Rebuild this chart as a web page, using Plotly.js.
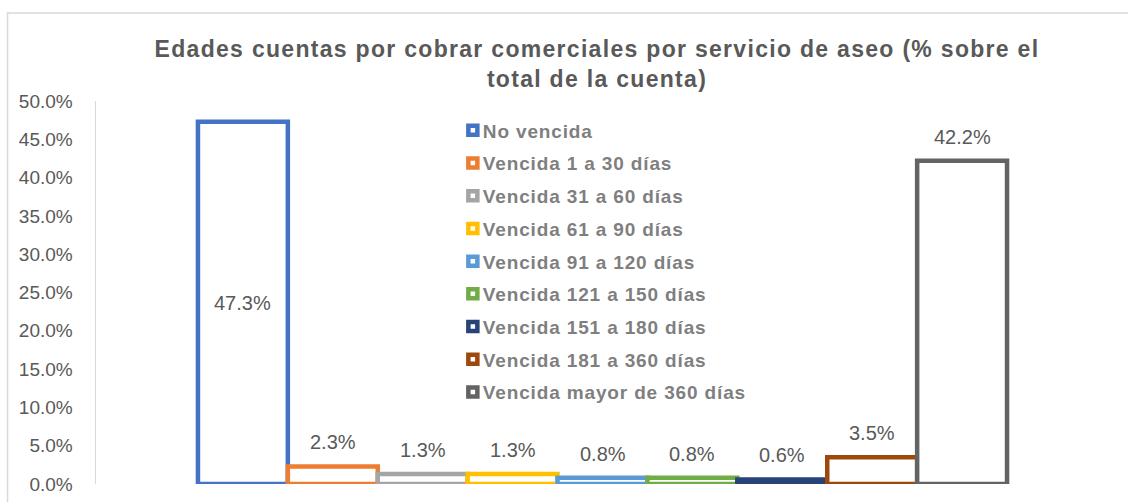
<!DOCTYPE html>
<html>
<head>
<meta charset="utf-8">
<script src="https://cdn.plot.ly/plotly-3.0.1.min.js"></script>
<style>
  html, body { margin: 0; padding: 0; background: #ffffff; }
  #chart { width: 1128px; height: 502px; }
  .gtitle { letter-spacing: 1.3px; }
  .legend .scrollbox { clip-path: none !important; }
  .legend .legendtext { letter-spacing: 0.85px; transform: translateX(-10px); }
  .legend .legendpoints path { transform: translate(20px, 0px) scale(0.75); stroke-width: 6px !important; }
</style>
</head>
<body>
<div id="chart"></div>
<script>
// ---- data ----
const categories = [
  'No vencida',
  'Vencida 1 a 30 días',
  'Vencida 31 a 60 días',
  'Vencida 61 a 90 días',
  'Vencida 91 a 120 días',
  'Vencida 121 a 150 días',
  'Vencida 151 a 180 días',
  'Vencida 181 a 360 días',
  'Vencida mayor de 360 días'
];
const values = [47.3, 2.3, 1.3, 1.3, 0.8, 0.8, 0.6, 3.5, 42.2];
const colors = ['#4472C4', '#ED7D31', '#A5A5A5', '#FFC000', '#5B9BD5', '#70AD47', '#264478', '#9E480E', '#636363'];
const titleText = 'Edades cuentas por cobrar comerciales por servicio de aseo (% sobre el<br>total de la cuenta)';

// ---- traces ----
const traces = categories.map((name, i) => ({
  type: 'bar',
  name: name,
  x: [i],
  y: [values[i]],
  width: 1,
  legendgroup: 'g' + i,
  marker: { color: '#ffffff', line: { color: colors[i], width: 4.5 } },
  hoverinfo: 'name+y'
}));

const annotations = values.map((v, i) => {
  const inside = i === 0;
  return {
    x: i, y: inside ? v / 2 : v,
    xref: 'x', yref: 'y',
    text: v.toFixed(1) + '%',
    showarrow: false,
    xanchor: 'center',
    yanchor: inside ? 'middle' : 'bottom',
    yshift: inside ? 0 : 11,
    font: { family: 'Liberation Sans, Arial, sans-serif', size: 20, color: '#595959' }
  };
});

const layout = {
  width: 1128, height: 502,
  paper_bgcolor: '#ffffff', plot_bgcolor: '#ffffff',
  margin: { l: 96, r: 18.6, t: 100.5, b: 18, pad: 0 },
  barmode: 'overlay',
  showlegend: true,
  title: {
    text: titleText,
    x: 597 / 1128, xanchor: 'center',
    y: 1 - 57 / 502, yref: 'container', yanchor: 'top',
    font: { family: 'Liberation Sans, Arial, sans-serif', size: 23, color: '#595959', weight: 'bold' }
  },
  xaxis: { visible: false, range: [-1.634, 9.634], fixedrange: true },
  yaxis: {
    range: [0, 50], dtick: 5, tick0: 0,
    tickformat: '.1f', ticksuffix: '%',
    showgrid: false, zeroline: false,
    showline: true, linecolor: '#d9d9d9', linewidth: 1.5,
    ticks: '', ticklabelstandoff: 18,
    tickfont: { family: 'Liberation Sans, Arial, sans-serif', size: 19, color: '#595959' },
    fixedrange: true
  },
  legend: {
    x: (453 - 96) / 1013.4, xanchor: 'left',
    y: (484 - 111) / 383.5, yanchor: 'top',
    bgcolor: 'rgba(0,0,0,0)', borderwidth: 0,
    tracegroupgap: 5,
    font: { family: 'Liberation Sans, Arial, sans-serif', size: 19, color: '#7f7f7f', weight: 'bold' }
  },
  annotations: annotations,
  shapes: [{
    type: 'rect', xref: 'paper', yref: 'paper',
    x0: (7.5 - 96) / 1013.4, x1: 1.05,
    y0: -0.1, y1: (484 - 12.5) / 383.5,
    line: { color: '#d9d9d9', width: 1.5 }, fillcolor: 'rgba(0,0,0,0)', layer: 'below'
  }]
};

Plotly.newPlot('chart', traces, layout, { displayModeBar: false, staticPlot: true });
</script>
</body>
</html>
